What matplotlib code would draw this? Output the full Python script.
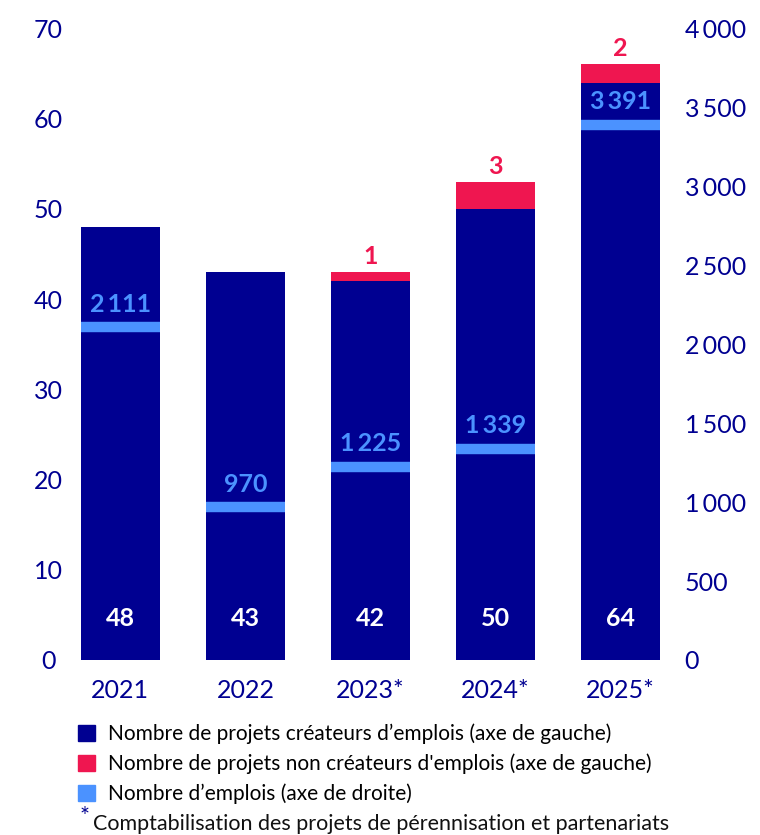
import matplotlib
matplotlib.use("Agg")
import matplotlib.pyplot as plt
from matplotlib.patches import Patch

plt.rcParams['font.family'] = ['Lato', 'DejaVu Sans']

years = ["2021", "2022", "2023*", "2024*", "2025*"]
projets_createurs = [48, 43, 42, 50, 64]
projets_non_createurs = [0, 0, 1, 3, 2]
emplois = [2111, 970, 1225, 1339, 3391]
left_ticks = [0, 10, 20, 30, 40, 50, 60, 70]
right_ticks = [0, 500, 1000, 1500, 2000, 2500, 3000, 3500, 4000]

NAVY = "#000091"
RED = "#EF1650"
LBLUE = "#4B92FF"

def fmt(v):
    return f"{v:,}".replace(",", "\u2009")

fig = plt.figure(figsize=(7.6, 8.35), dpi=100)
ax = fig.add_axes([0.076, 0.2096, 0.823, 0.7564])
ax2 = ax.twinx()

x = list(range(len(years)))
w = 0.63
ax.bar(x, projets_createurs, width=w, color=NAVY, zorder=2)
ax.bar(x, projets_non_createurs, width=w, bottom=projets_createurs, color=RED, zorder=2)

ax.set_xlim(-0.5, 4.5)
ax.set_ylim(0, 70)
ax2.set_ylim(0, 4000)
ax.set_yticks(left_ticks)
ax2.set_yticks(right_ticks)
ax2.set_yticklabels([fmt(t) for t in right_ticks])
ax.set_xticks(x)
ax.set_xticklabels(years)

for a in (ax, ax2):
    for s in a.spines.values():
        s.set_visible(False)
    a.tick_params(length=0, labelsize=18, labelcolor=NAVY)
ax.tick_params(axis='y', pad=7)
for lbl in ax.get_yticklabels():
    lbl.set_ha('center')
ax.tick_params(axis='x', pad=14)
ax2.tick_params(axis='y', pad=1)

# emplois bands
for xi, e in zip(x, emplois):
    ax2.hlines(e, xi - w / 2, xi + w / 2, colors=LBLUE, linewidth=7.5, zorder=3)
    ax2.annotate(fmt(e), (xi, e), xytext=(0, 8), textcoords="offset points",
                 ha="center", va="bottom", color=LBLUE, fontsize=18, fontweight="bold", zorder=4)

# white labels inside
for xi, v in zip(x, projets_createurs):
    ax.text(xi, 4.6, str(v), ha="center", va="center", color="white",
            fontsize=18, fontweight="bold", zorder=4)

# red labels on top
for xi, v, n in zip(x, projets_createurs, projets_non_createurs):
    if n > 0:
        ax.annotate(str(n), (xi, v + n), xytext=(0, 3), textcoords="offset points",
                    ha="center", va="bottom", color=RED, fontsize=18, fontweight="bold")

handles = [Patch(color=NAVY), Patch(color=RED), Patch(color=LBLUE)]
labels = ["Nombre de projets créateurs d’emplois (axe de gauche)",
          "Nombre de projets non créateurs d'emplois (axe de gauche)",
          "Nombre d’emplois (axe de droite)"]
fig.legend(handles, labels, loc="upper left", bbox_to_anchor=(0.103, 0.1335),
           bbox_transform=fig.transFigure, frameon=False, fontsize=15,
           handlelength=0.82, handleheight=0.82, handletextpad=0.6,
           labelspacing=0.45, borderaxespad=0, borderpad=0)

fig.text(0.105, 0.010, "*", color=NAVY, fontsize=17, ha="left", va="bottom")
fig.text(0.122, 0.0015, "Comptabilisation des projets de pérennisation et partenariats",
         color="#111111", fontsize=15.5, ha="left", va="bottom")

fig.savefig("out.png", dpi=100)
